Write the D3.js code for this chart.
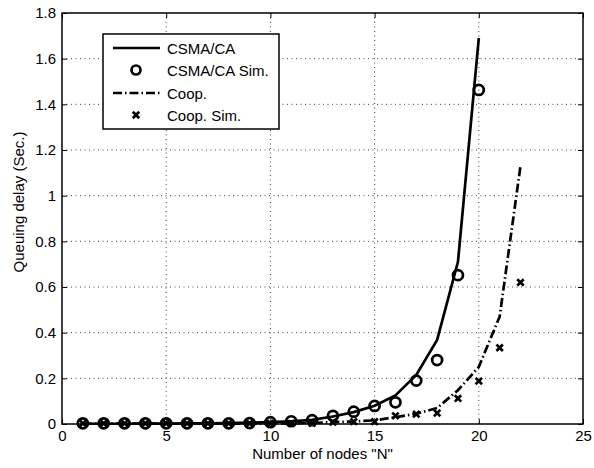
<!DOCTYPE html>
<html><head><meta charset="utf-8">
<script src="https://cdn.jsdelivr.net/npm/d3@7"></script>
<style>body{margin:0;background:#fff}svg{display:block}text{font-family:"Liberation Sans",Arial,sans-serif}</style>
</head><body><svg id="c" width="594" height="468"></svg>
<script>
const csmaN = [1,2,3,4,5,6,7,8,9,10,11,12,13,14,15,16,17,18,19,20];
const csmaLine = [0.001,0.001,0.001,0.002,0.002,0.003,0.003,0.004,0.006,0.008,0.012,0.018,0.033,0.052,0.08,0.125,0.215,0.368,0.71,1.69];
const csmaSim = [0.003,0.003,0.003,0.003,0.003,0.003,0.003,0.003,0.004,0.008,0.012,0.017,0.036,0.054,0.079,0.095,0.19,0.28,0.652,1.463];
const coopN = [1,2,3,4,5,6,7,8,9,10,11,12,13,14,15,16,17,18,19,20,21,22];
const coopLine = [0.002,0.002,0.002,0.002,0.002,0.002,0.002,0.002,0.002,0.002,0.003,0.005,0.008,0.011,0.016,0.03,0.045,0.07,0.148,0.25,0.47,1.13];
const coopSim = [0.003,0.003,0.003,0.003,0.003,0.003,0.003,0.003,0.003,0.003,0.003,0.003,0.008,0.01,0.01,0.036,0.043,0.048,0.112,0.188,0.334,0.62];
const xTicks = [0,5,10,15,20,25];
const yTicks = [0,0.2,0.4,0.6,0.8,1,1.2,1.4,1.6,1.8];
const legendLabels = ["CSMA/CA","CSMA/CA Sim.","Coop.","Coop. Sim."];

const svg = d3.select("#c");
const L=62,T=13,R=583,B=424;
const FS=15;
const x = d3.scaleLinear().domain([0,25]).range([L,R]);
const y = d3.scaleLinear().domain([0,1.8]).range([B,T]);

// grid
const g = svg.append("g");
g.selectAll(".gx").data(xTicks.slice(1,-1)).join("line")
 .attr("x1",d=>x(d)).attr("x2",d=>x(d)).attr("y1",T).attr("y2",B)
 .attr("stroke","#444").attr("stroke-width",1).attr("stroke-dasharray","1,3.5");
g.selectAll(".gy").data(yTicks.slice(1,-1)).join("line")
 .attr("y1",d=>y(d)).attr("y2",d=>y(d)).attr("x1",L).attr("x2",R)
 .attr("stroke","#444").attr("stroke-width",1).attr("stroke-dasharray","1,3.5");

// axes
const fmt = d=> d3.format("~g")(d);
const ax = svg.append("g").attr("transform",`translate(0,${B})`).call(d3.axisBottom(x).tickValues(xTicks).tickSizeInner(-5).tickSizeOuter(0).tickPadding(6).tickFormat(fmt));
const axT = svg.append("g").attr("transform",`translate(0,${T})`).call(d3.axisTop(x).tickValues(xTicks).tickSizeInner(-5).tickSizeOuter(0).tickFormat(""));
const ay = svg.append("g").attr("transform",`translate(${L},0)`).call(d3.axisLeft(y).tickValues(yTicks).tickSizeInner(-5).tickSizeOuter(0).tickPadding(6).tickFormat(fmt));
const ayR = svg.append("g").attr("transform",`translate(${R},0)`).call(d3.axisRight(y).tickValues(yTicks).tickSizeInner(-5).tickSizeOuter(0).tickFormat(""));
[ax,axT,ay,ayR].forEach(a=>{
  a.select(".domain").remove();
  a.selectAll("line").attr("stroke","#000").attr("stroke-width",1);
  a.selectAll("text").attr("font-size",FS).attr("fill","#000").attr("font-family","Liberation Sans, Arial, sans-serif");
});
svg.append("rect").attr("x",L).attr("y",T).attr("width",R-L).attr("height",B-T)
 .attr("fill","none").attr("stroke","#000").attr("stroke-width",1.5);

svg.append("text").attr("x",(L+R)/2).attr("y",459).attr("text-anchor","middle").attr("font-size",FS).text('Number of nodes "N"');
svg.append("text").attr("transform",`translate(24,${202}) rotate(-90)`).attr("text-anchor","middle").attr("font-size",FS).text("Queuing delay (Sec.)");

const line = d3.line().x(d=>x(d[0])).y(d=>y(d[1]));
const coopDash = "9,3,1.5,3";

// coop line
svg.append("path").datum(coopN.map((n,i)=>[n,coopLine[i]])).attr("d",line)
 .attr("fill","none").attr("stroke","#000").attr("stroke-width",2.7).attr("stroke-dasharray",coopDash);
// csma line
svg.append("path").datum(csmaN.map((n,i)=>[n,csmaLine[i]])).attr("d",line)
 .attr("fill","none").attr("stroke","#000").attr("stroke-width",2.7);

function cross(sel,cx,cy,s){
  sel.append("path").attr("d",`M${cx-s},${cy-s}L${cx+s},${cy+s}M${cx-s},${cy+s}L${cx+s},${cy-s}`)
   .attr("stroke","#000").attr("stroke-width",2.7).attr("fill","none");
}
const cg = svg.append("g");
coopN.forEach((n,i)=>cross(cg,x(n),y(coopSim[i]),3.2));
svg.append("g").selectAll("circle").data(csmaN.map((n,i)=>[n,csmaSim[i]])).join("circle")
 .attr("cx",d=>x(d[0])).attr("cy",d=>y(d[1])).attr("r",5)
 .attr("fill","none").attr("stroke","#000").attr("stroke-width",2.7);

// legend
const lg = svg.append("g");
lg.append("rect").attr("x",103).attr("y",34).attr("width",176).attr("height",95)
 .attr("fill","#fff").attr("stroke","#000").attr("stroke-width",1.5);
const rows=[48,70,93,115];
lg.append("line").attr("x1",113).attr("x2",160).attr("y1",rows[0]).attr("y2",rows[0]).attr("stroke","#000").attr("stroke-width",2.7);
lg.append("circle").attr("cx",136).attr("cy",rows[1]).attr("r",4.5).attr("fill","none").attr("stroke","#000").attr("stroke-width",2.7);
lg.append("line").attr("x1",113).attr("x2",160).attr("y1",rows[2]).attr("y2",rows[2]).attr("stroke","#000").attr("stroke-width",2.7).attr("stroke-dasharray",coopDash);
cross(lg,136,rows[3],3.2);
lg.selectAll("text.l").data(legendLabels).join("text").attr("x",167).attr("y",(d,i)=>rows[i]+5.5)
 .attr("font-size",FS).text(d=>d);
</script></body></html>
